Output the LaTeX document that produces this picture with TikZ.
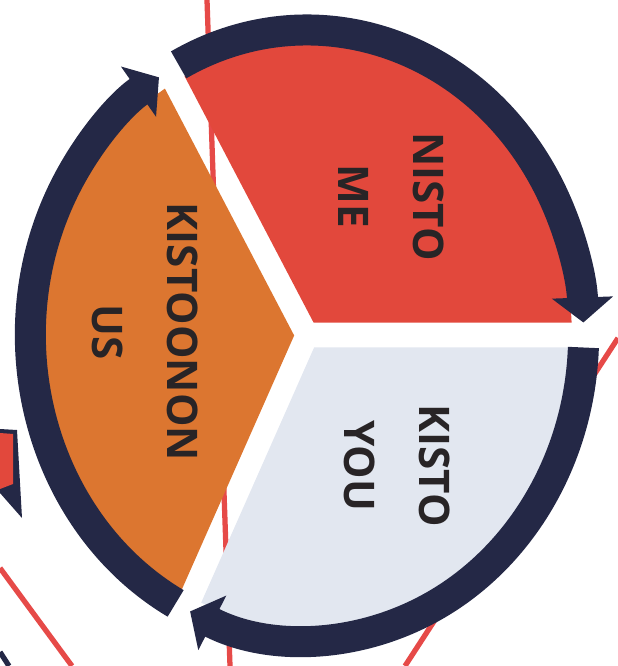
\documentclass[tikz,border=0pt]{standalone}
\usepackage{fontspec}
\setmainfont{Open Sans}
\usepackage{xcolor}
\usepackage{tikz}
\usetikzlibrary{arrows.meta}
\definecolor{ringblue}{RGB}{36,40,70}
\definecolor{mered}{RGB}{226,72,60}
\definecolor{usorange}{RGB}{220,118,48}
\definecolor{youwhite}{RGB}{226,231,240}
\definecolor{lined}{RGB}{230,74,72}
\definecolor{inkdark}{RGB}{40,36,38}
\tikzset{
  ring/.style={draw=ringblue, line width=0.31cm},
  ringarrow/.style={ring, -{Triangle[length=0.25cm, width=0.6cm]}},
  bgline/.style={draw=lined, line width=1.5pt},
  sectortext/.style={rotate=-90, align=center, text=inkdark, font=\bfseries\fontsize{12}{21.3}\selectfont}
}

\begin{document}
\begin{tikzpicture}
        \useasboundingbox (0,0) rectangle (6.18,6.66);
        % lines behind the wheel
        \draw[bgline] (2.07,6.66) -- (2.30,0);
        \draw[bgline] (4.05,0) -- (6.18,3.28);
        \draw[bgline] (0,0.98) -- (0.72,0);
        \draw[ringblue, line width=1.5pt] (0,0.14) -- (0.09,0);
        \fill[ringblue] (0,2.37) -- (0.17,2.36) -- (0.22,1.48) -- (0,1.73) -- cycle;
        \fill[mered] (0,2.33) -- (0.13,2.32) -- (0.13,1.82) -- (0,1.77) -- cycle;

        \begin{scope}[shift={(3.07,3.31)}, xscale=0.907]
          \foreach \col/\a/\b in {mered/0/120, usorange/120/244, youwhite/244/360}
            \fill[\col] ({(\a+\b)/2}:{0.125/sin((\b-\a)/2)}) -- ({\a+2.45}:2.92)
              arc[start angle={\a+2.45}, end angle={\b-2.45}, radius=2.92] -- cycle;

          \foreach \s/\e in {117.65/2.35, -2.35/-115, 241.65/122.35}
            \draw[ringarrow] (\s:3.05) arc[start angle=\s, end angle=\e, radius=3.05];
        \end{scope}

        \node[sectortext] (me) at (3.91,4.695) {NISTO\\ME};
        \node[sectortext] (us) at (1.455,3.34) {KISTOONON\\US};
        \node[sectortext] (you) at (3.97,2.005) {KISTO\\YOU};
      \end{tikzpicture}
\end{document}
